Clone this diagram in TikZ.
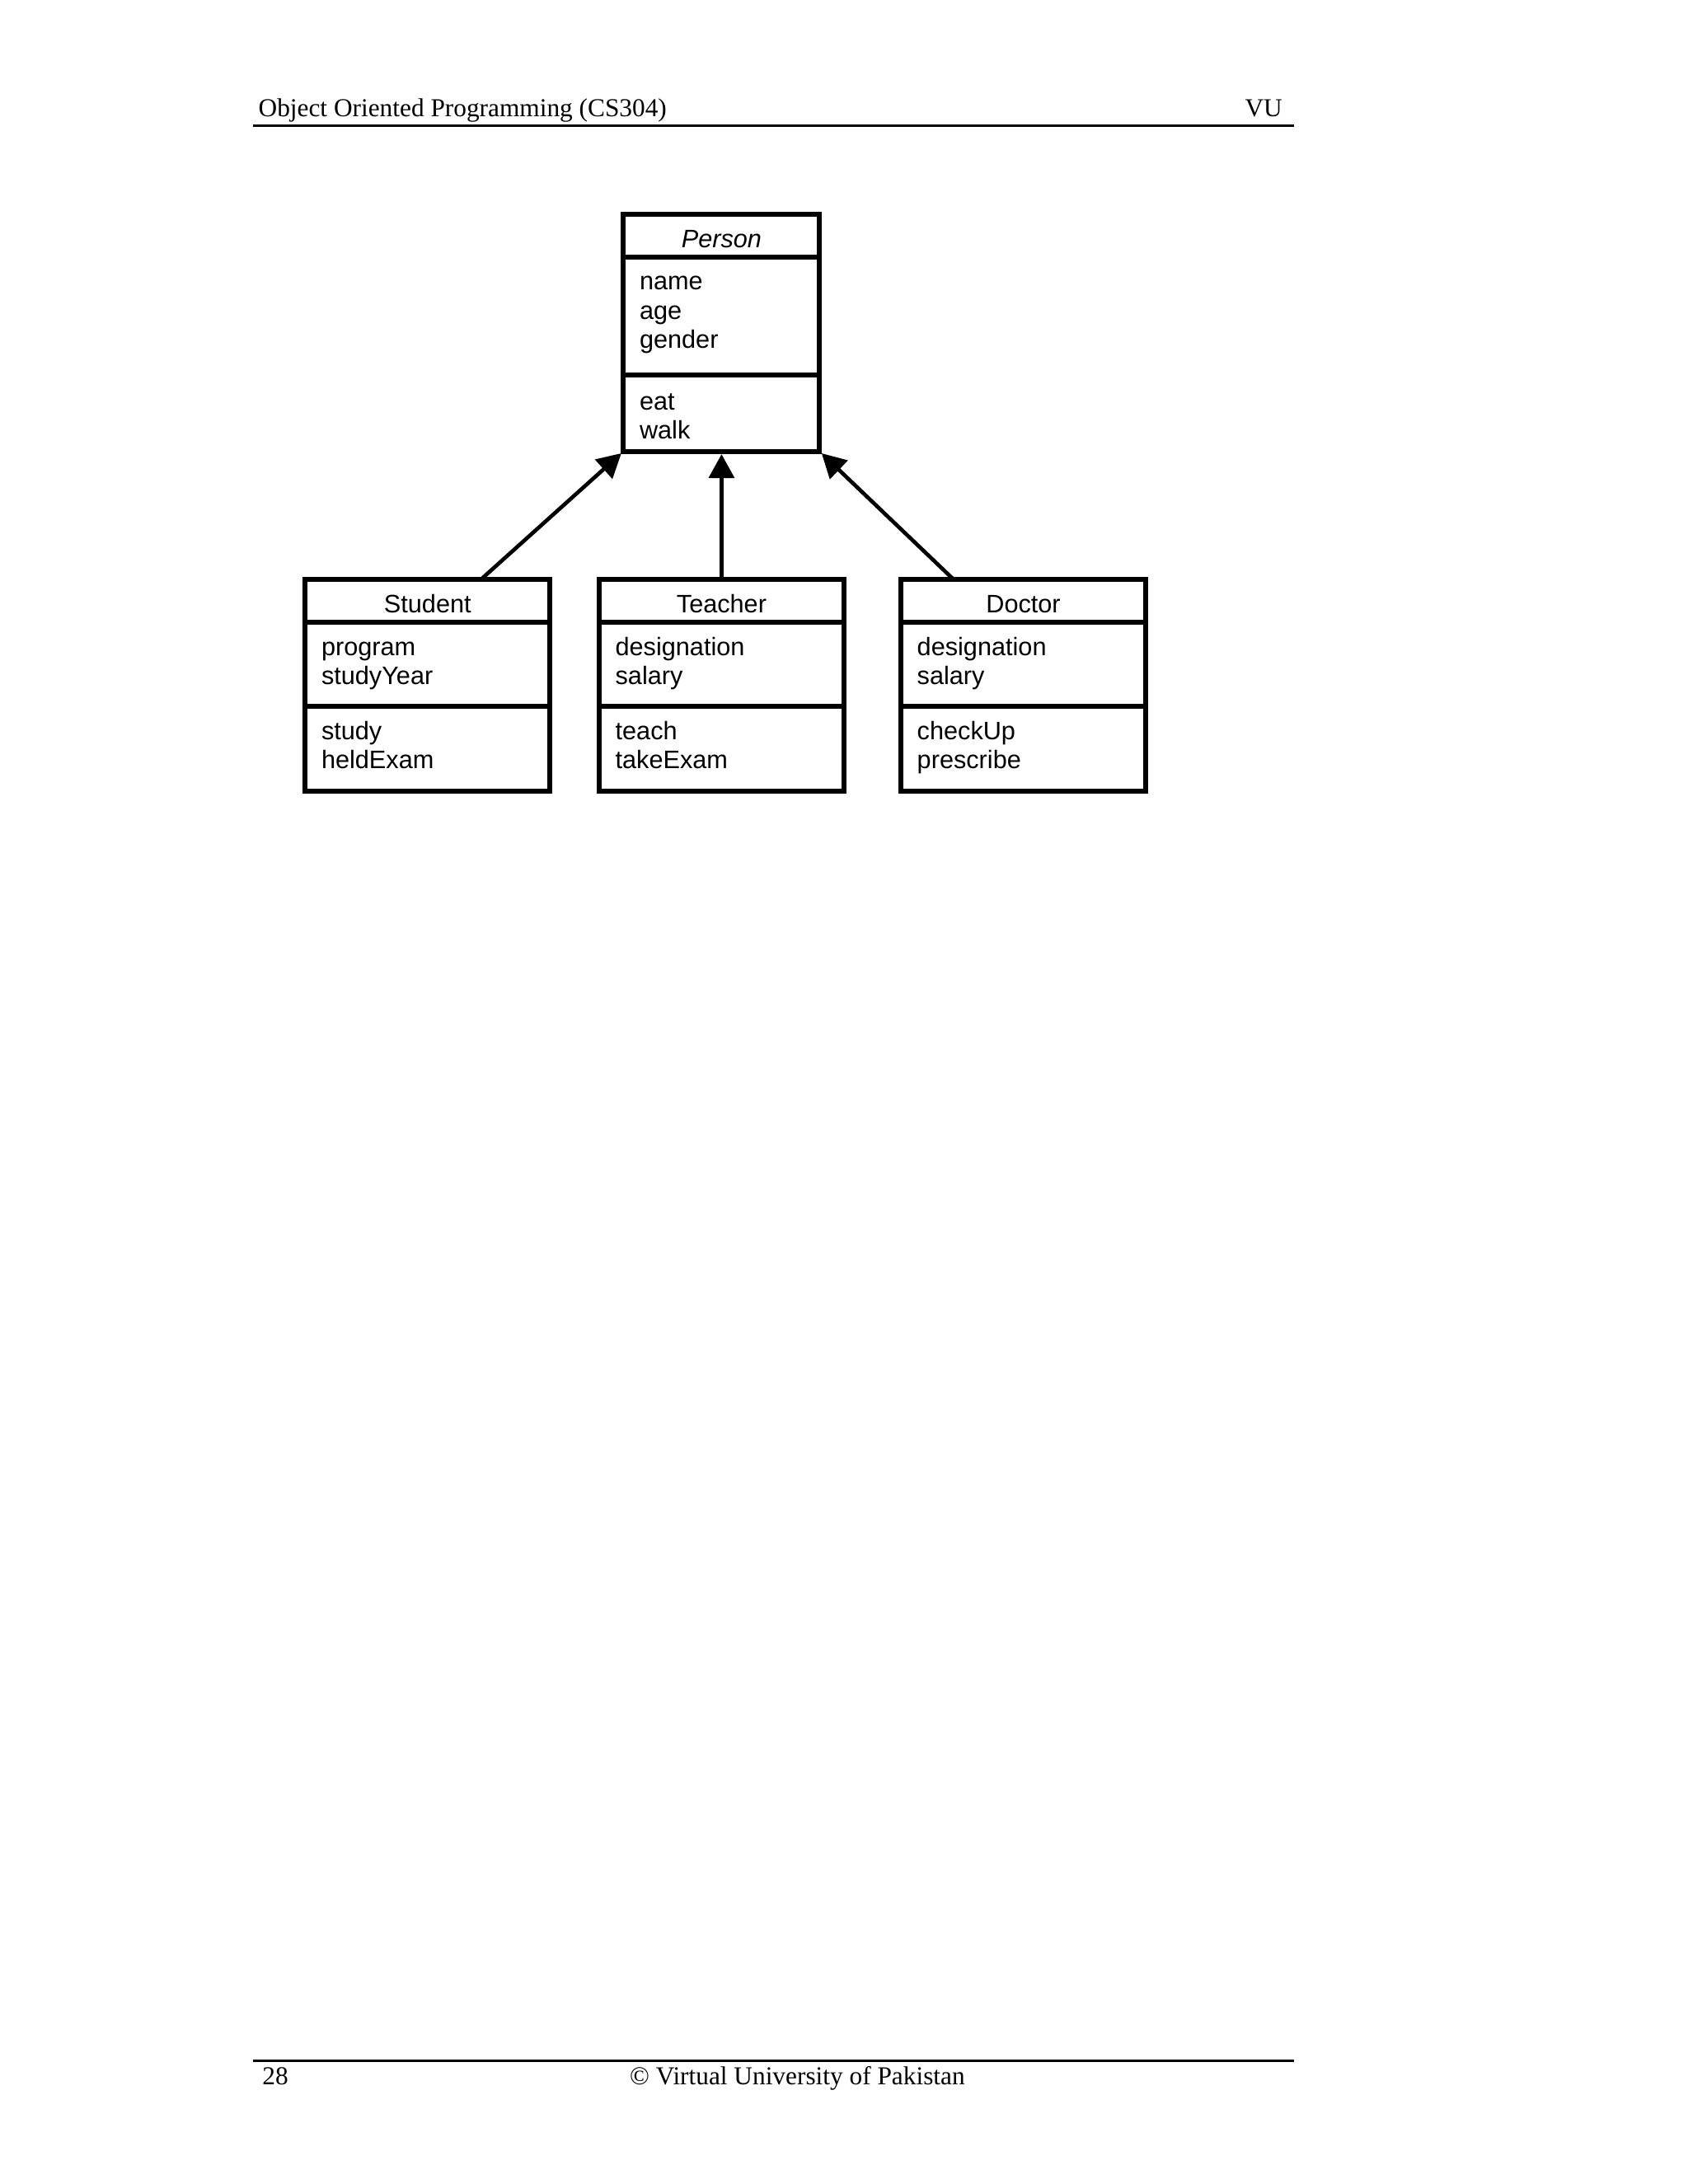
\documentclass[tikz,border=0pt]{standalone}
\usepackage{fontspec}
\setmainfont{Liberation Serif}
\setsansfont{Liberation Sans}
\usepackage{tikz}
\usetikzlibrary{arrows.meta, positioning, calc}
\tikzstyle{classbox} = [rectangle, draw, line width=1.8pt, minimum width=3.13cm, minimum height=2.71cm, inner sep=0pt, outer sep=0pt]
\tikzstyle{classname} = [anchor=base, inner sep=0pt, font=\sffamily\fontsize{9.2}{10.6}\selectfont]
\tikzstyle{members} = [anchor=base west, inner sep=0pt, align=left, font=\sffamily\fontsize{9.2}{10.6}\selectfont]
\tikzstyle{divider} = [line width=1.8pt]
\tikzstyle{arrow} = [line width=1.4pt, -{Triangle[length=8.7pt, width=9.2pt]}, shorten >=1pt]
\tikzstyle{pagetext} = [inner sep=0pt, font=\fontsize{9.4}{11}\selectfont]
\tikzstyle{pagerule} = [line width=0.8pt]

\begin{document}
\begin{tikzpicture}
    \useasboundingbox (0,0) rectangle (21.59,-27.94);

    % Page header
    \node[pagetext, anchor=base west] (title) at (3.30,-1.49) {Object Oriented Programming (CS304)};
    \node[pagetext, anchor=base east] (vu) at (16.41,-1.49) {VU};
    \draw[pagerule] (3.24,-1.61) -- (16.55,-1.61);

    % Base class
    \node[classbox, minimum width=2.51cm, minimum height=3.03cm] (person) at (9.23,-4.26) {};
    \draw[divider] ($(person.north west)+(0,-0.54)$) -- ($(person.north east)+(0,-0.54)$);
    \draw[divider] ($(person.north west)+(0,-2.05)$) -- ($(person.north east)+(0,-2.05)$);
    \node[classname] at ($(person.north)+(0,-0.42)$) {\textit{Person}};
    \node[members] at ($(person.north west)+(0.20,-1.71)$) {name\\age\\gender};
    \node[members] at ($(person.north west)+(0.20,-2.87)$) {eat\\walk};

    % Student
    \node[classbox] (student) at (5.47,-8.77) {};
    \draw[divider] ($(student.north west)+(0,-0.54)$) -- ($(student.north east)+(0,-0.54)$);
    \draw[divider] ($(student.north west)+(0,-1.62)$) -- ($(student.north east)+(0,-1.62)$);
    \node[classname] at ($(student.north)+(0,-0.42)$) {Student};
    \node[members] at ($(student.north west)+(0.20,-1.34)$) {program\\studyYear};
    \node[members] at ($(student.north west)+(0.20,-2.42)$) {study\\heldExam};

    % Teacher
    \node[classbox] (teacher) at (9.23,-8.77) {};
    \draw[divider] ($(teacher.north west)+(0,-0.54)$) -- ($(teacher.north east)+(0,-0.54)$);
    \draw[divider] ($(teacher.north west)+(0,-1.62)$) -- ($(teacher.north east)+(0,-1.62)$);
    \node[classname] at ($(teacher.north)+(0,-0.42)$) {Teacher};
    \node[members] at ($(teacher.north west)+(0.20,-1.34)$) {designation\\salary};
    \node[members] at ($(teacher.north west)+(0.20,-2.42)$) {teach\\takeExam};

    % Doctor
    \node[classbox] (doctor) at (13.09,-8.77) {};
    \draw[divider] ($(doctor.north west)+(0,-0.54)$) -- ($(doctor.north east)+(0,-0.54)$);
    \draw[divider] ($(doctor.north west)+(0,-1.62)$) -- ($(doctor.north east)+(0,-1.62)$);
    \node[classname] at ($(doctor.north)+(0,-0.42)$) {Doctor};
    \node[members] at ($(doctor.north west)+(0.20,-1.34)$) {designation\\salary};
    \node[members] at ($(doctor.north west)+(0.20,-2.42)$) {checkUp\\prescribe};

    % Inheritance
    \draw[arrow] ([xshift=0.68cm]student.north) -- (person.south west);
    \draw[arrow] (teacher.north) -- (person.south);
    \draw[arrow] ([xshift=-0.89cm]doctor.north) -- (person.south east);

    % Page footer
    \draw[pagerule] (3.24,-26.36) -- (16.55,-26.36);
    \node[pagetext, anchor=base west] (pageno) at (3.35,-26.67) {28};
    \node[pagetext, anchor=base] (copyright) at (10.20,-26.67) {\textcopyright{} Virtual University of Pakistan};
\end{tikzpicture}
\end{document}
